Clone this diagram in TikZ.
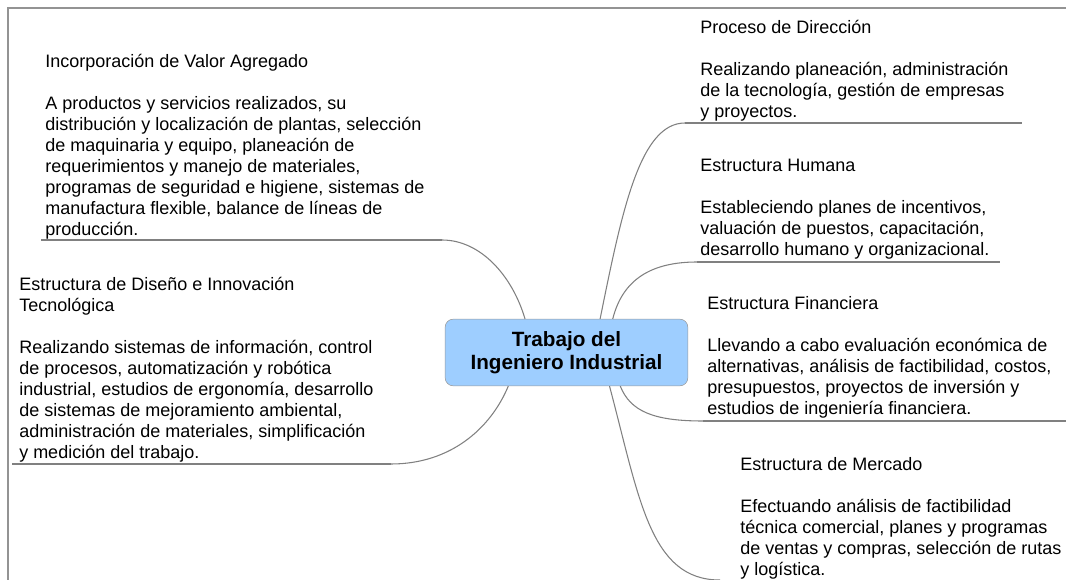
\documentclass[tikz,border=0pt]{standalone}
\usepackage{fontspec}
\setmainfont{Liberation Sans}
\usepackage{tikz}
\definecolor{celeste}{RGB}{158,206,255}
\definecolor{gris}{RGB}{128,128,128}
\tikzset{
    CB/.style ={rectangle, rounded corners=6pt, minimum width=182pt, minimum height=50pt, draw=gray!80, fill=celeste, align=center, font=\bfseries\fontsize{15.5}{17.6}\selectfont},
    TX/.style ={anchor=north west, align=left, inner sep=0pt, font=\fontsize{13.5}{15.75}\selectfont},
    LN/.style ={draw=gris, line width=0.8pt}}

\begin{document}
\begin{tikzpicture}[x=0.75pt,y=-0.75pt]
        \useasboundingbox (0,0) rectangle (1066,580);
        \draw[draw=gray!85, line width=0.8pt] (8,580) --(8,8) --(1066,8);
        \node[CB] (trab) at (566.5,352.5) {Trabajo del\\Ingeniero Industrial};
        \node[TX] (inc) at (45,53.5) {Incorporación de Valor Agregado\\[15.75pt]
            A productos y servicios realizados, su\\
            distribución y localización de plantas, selección\\
            de maquinaria y equipo, planeación de\\
            requerimientos y manejo de materiales,\\
            programas de seguridad e higiene, sistemas de\\
            manufactura flexible, balance de líneas de\\
            producción.};
        \node[TX] (dis) at (19,276.5) {Estructura de Diseño e Innovación\\
            Tecnológica\\[15.75pt]
            Realizando sistemas de información, control\\
            de procesos, automatización y robótica\\
            industrial, estudios de ergonomía, desarrollo\\
            de sistemas de mejoramiento ambiental,\\
            administración de materiales, simplificación\\
            y medición del trabajo.};
        \node[TX] (dir) at (700,20) {Proceso de Dirección\\[15.75pt]
            Realizando planeación, administración\\
            de la tecnología, gestión de empresas\\
            y proyectos.};
        \node[TX] (hum) at (700,158.5) {Estructura Humana\\[15.75pt]
            Estableciendo planes de incentivos,\\
            valuación de puestos, capacitación,\\
            desarrollo humano y organizacional.};
        \node[TX] (fin) at (707,296.5) {Estructura Financiera\\[15.75pt]
            Llevando a cabo evaluación económica de\\
            alternativas, análisis de factibilidad, costos,\\
            presupuestos, proyectos de inversión y\\
            estudios de ingeniería financiera.};
        \node[TX] (mer) at (740,457) {Estructura de Mercado\\[15.75pt]
            Efectuando análisis de factibilidad\\
            técnica comercial, planes y programas\\
            de ventas y compras, selección de rutas\\
            y logística.};
        % subrayados
        \coordinate (inc-a) at (442,240); \coordinate (inc-b) at (41,240);
        \coordinate (dis-a) at (391,464); \coordinate (dis-b) at (12,464);
        \coordinate (dir-a) at (685,123); \coordinate (dir-b) at (1022,123);
        \coordinate (hum-a) at (697,262); \coordinate (hum-b) at (1000,262);
        \coordinate (fin-a) at (703,421); \coordinate (fin-b) at (1066,421);
        \coordinate (mer-a) at (720,580);
        \foreach \r in {inc,dis,dir,hum,fin}{
            \draw[LN] (\r-a) --(\r-b);}
        % ramas
        \draw[LN] (trab.141) .. controls +(-13,-44) and +(38,0) .. (inc-a);
        \draw[LN] (trab.210) .. controls +(-18,43) and +(59,0) .. (dis-a);
        \draw[LN] (trab.45) .. controls +(22,-109) and +(-45,0) .. (dir-a);
        \draw[LN] (trab.36) .. controls +(10,-40) and +(-45,0) .. (hum-a);
        \draw[LN] (trab.328) .. controls +(10,25) and +(-50,0) .. (fin-a);
        \draw[LN] (trab.322) .. controls +(30,113) and +(-70,0) .. (mer-a);
    \end{tikzpicture}
\end{document}
